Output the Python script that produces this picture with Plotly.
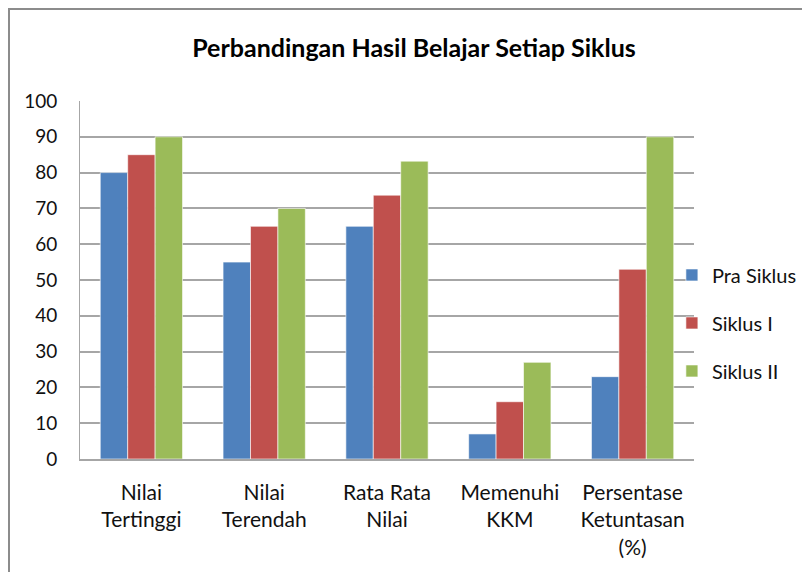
import plotly.graph_objects as go

categories = ["Nilai<br>Tertinggi", "Nilai<br>Terendah", "Rata Rata<br>Nilai", "Memenuhi<br>KKM", "Persentase<br>Ketuntasan<br>(%)"]
pra_siklus = [80, 55, 65, 7, 23]
siklus_1 = [85, 65, 73.7, 16, 53]
siklus_2 = [90, 70, 83.2, 27, 90]
series_names = ["Pra Siklus", "Siklus I", "Siklus II"]
colors = ["#4F81BD", "#C0504D", "#9BBB59"]
y_ticks = list(range(0, 101, 10))

FONT = "Lato, Carlito, Calibri, sans-serif"

fig = go.Figure()
for i, (name, vals) in enumerate(zip(series_names, [pra_siklus, siklus_1, siklus_2])):
    fig.add_trace(go.Bar(
        x=categories, y=vals, name=name, legendgroup=name,
        marker=dict(color=colors[i], line=dict(color="rgba(255,255,255,0.6)", width=1)),
    ))

fig.update_layout(
    width=810, height=572,
    paper_bgcolor="white", plot_bgcolor="white",
    margin=dict(l=72, r=124, t=93, b=121, autoexpand=False),
    barmode="group", bargap=0.33, bargroupgap=0,
    font=dict(family=FONT, size=20, color="#111111"),
    title=dict(text="<b>Perbandingan Hasil Belajar Setiap Siklus</b>",
               x=406/810, xanchor="center", y=1-40/572, yanchor="middle",
               font=dict(family=FONT, size=25, color="#000000")),
    legend=dict(x=0.964, xanchor="left", y=0.38, yanchor="middle",
                traceorder="grouped", tracegroupgap=19,
                font=dict(family=FONT, size=20, color="#111111"),
                itemwidth=30, bgcolor="rgba(0,0,0,0)"),
    showlegend=True,
)
fig.update_yaxes(range=[0, 100], tickvals=y_ticks, showgrid=True, gridcolor="#A6A6A6", gridwidth=1.5,
                 showline=True, linecolor="#A6A6A6", linewidth=1, ticks="", zeroline=False,
                 tickfont=dict(size=19), ticklabelstandoff=18)
fig.update_xaxes(showline=True, linecolor="#A6A6A6", linewidth=1.5, ticks="",
                 tickfont=dict(size=21), tickangle=0, ticklabelstandoff=14)

# chart border
fig.add_shape(type="rect", xref="paper", yref="paper",
              x0=(1-72)/614, x1=(830-72)/614, y0=-0.5, y1=(451-1)/358,
              line=dict(color="#8C8C8C", width=2), fillcolor="rgba(0,0,0,0)", layer="below")

fig.write_html("out.html")
